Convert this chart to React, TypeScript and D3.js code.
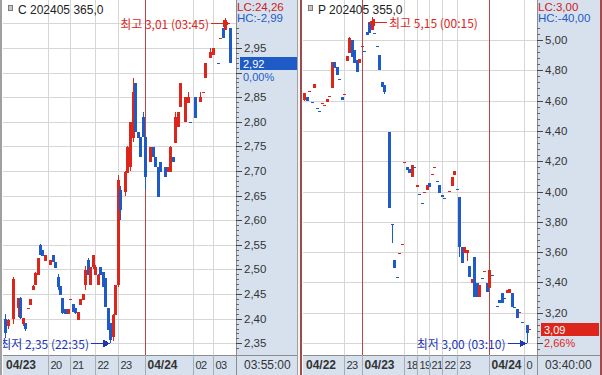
import React from "react";
import * as d3 from "d3";

type Candle = [number, number, number, number, number]; // slot, open, high, low, close

// ---------- C 202405 365,0 ----------
const cTitle = "C 202405 365,0";
const cCandles: Candle[] = [
  [0, 2.40, 2.41, 2.36, 2.37], [1, 2.385, 2.40, 2.38, 2.397], [3, 2.40, 2.485, 2.39, 2.48],
  [5, 2.422, 2.442, 2.403, 2.442], [6, 2.442, 2.445, 2.40, 2.401], [7, 2.389, 2.40, 2.385, 2.401],
  [8, 2.391, 2.391, 2.375, 2.379], [9, 2.422, 2.422, 2.422, 2.422], [10, 2.428, 2.44, 2.428, 2.44],
  [11, 2.458, 2.468, 2.458, 2.466], [12, 2.469, 2.495, 2.469, 2.493], [13, 2.489, 2.523, 2.489, 2.523],
  [14, 2.55, 2.552, 2.53, 2.53], [15, 2.54, 2.54, 2.527, 2.527], [16, 2.517, 2.53, 2.517, 2.53],
  [18, 2.509, 2.519, 2.509, 2.519], [19, 2.53, 2.53, 2.515, 2.515], [20, 2.515, 2.515, 2.503, 2.503],
  [21, 2.485, 2.49, 2.458, 2.464], [22, 2.466, 2.466, 2.448, 2.448], [23, 2.442, 2.442, 2.41, 2.412],
  [24, 2.42, 2.42, 2.41, 2.41], [25, 2.41, 2.42, 2.41, 2.42], [26, 2.44, 2.44, 2.44, 2.44],
  [27, 2.43, 2.43, 2.414, 2.414], [28, 2.422, 2.422, 2.41, 2.412], [29, 2.397, 2.414, 2.397, 2.414],
  [30, 2.428, 2.44, 2.428, 2.44], [31, 2.438, 2.45, 2.438, 2.45], [32, 2.469, 2.507, 2.458, 2.499],
  [33, 2.519, 2.523, 2.489, 2.489], [34, 2.469, 2.505, 2.469, 2.505], [35, 2.505, 2.53, 2.50, 2.53],
  [36, 2.489, 2.51, 2.489, 2.505], [37, 2.469, 2.49, 2.469, 2.489], [38, 2.505, 2.505, 2.489, 2.489],
  [39, 2.495, 2.495, 2.464, 2.464], [40, 2.483, 2.483, 2.424, 2.424], [41, 2.422, 2.422, 2.377, 2.377],
  [42, 2.391, 2.391, 2.35, 2.357], [43, 2.363, 2.41, 2.355, 2.408], [44, 2.408, 2.469, 2.408, 2.469],
  [45, 2.469, 2.692, 2.465, 2.682], [46, 2.662, 2.67, 2.60, 2.62], [48, 2.658, 2.70, 2.65, 2.698],
  [49, 2.696, 2.75, 2.696, 2.749], [50, 2.708, 2.80, 2.70, 2.80], [51, 2.767, 2.889, 2.76, 2.861],
  [52, 2.879, 2.879, 2.78, 2.78], [53, 2.78, 2.78, 2.767, 2.767], [54, 2.769, 2.769, 2.729, 2.729],
  [55, 2.81, 2.82, 2.769, 2.769], [56, 2.769, 2.77, 2.662, 2.688], [58, 2.719, 2.749, 2.719, 2.749],
  [59, 2.749, 2.749, 2.729, 2.729], [60, 2.729, 2.729, 2.708, 2.708], [61, 2.708, 2.708, 2.647, 2.647],
  [62, 2.719, 2.719, 2.698, 2.698], [64, 2.708, 2.708, 2.688, 2.688], [65, 2.698, 2.708, 2.698, 2.708],
  [66, 2.698, 2.75, 2.698, 2.749], [67, 2.729, 2.729, 2.719, 2.719], [68, 2.757, 2.82, 2.757, 2.81],
  [69, 2.79, 2.82, 2.79, 2.82], [70, 2.83, 2.879, 2.83, 2.879], [72, 2.80, 2.851, 2.80, 2.851],
  [73, 2.839, 2.861, 2.839, 2.851], [74, 2.80, 2.80, 2.80, 2.80], [76, 2.851, 2.851, 2.808, 2.808],
  [78, 2.841, 2.861, 2.841, 2.851], [79, 2.861, 2.861, 2.861, 2.861], [80, 2.889, 2.92, 2.889, 2.92],
  [82, 2.93, 2.95, 2.93, 2.942], [83, 2.936, 2.95, 2.936, 2.95], [85, 2.92, 2.92, 2.92, 2.92],
  [86, 2.971, 2.971, 2.971, 2.971], [87, 2.99, 2.99, 2.97, 2.97], [88, 2.987, 3.01, 2.987, 3.007],
  [90, 2.99, 2.99, 2.92, 2.92],
];
const cTicks: [number, string][] = [[0, "04/23"], [17, "20"], [26, "21"], [36, "22"], [45, "23"], [56, "04/24"], [75, "02"], [83, "03"]];
const cYTicks = [2.35, 2.40, 2.45, 2.50, 2.55, 2.60, 2.65, 2.70, 2.75, 2.80, 2.85, 2.90, 2.95, 3.00];
const cLC = "LC:24,26";
const cHC = "HC:-2,99";
const cLast = 2.92;
const cPct = "0,00%";
const cTime = "03:55:00";
const cHigh = { idx: 88, value: 3.01, time: "03:45" };
const cLow = { idx: 42, value: 2.35, time: "22:35" };

// ---------- P 202405 355,0 ----------
const pTitle = "P 202405 355,0";
const pCandles: Candle[] = [
  [0, 4.604, 4.65, 4.60, 4.65], [1, 4.624, 4.624, 4.597, 4.597], [2, 4.663, 4.663, 4.663, 4.663],
  [3, 4.591, 4.591, 4.591, 4.591], [4, 4.683, 4.71, 4.683, 4.71], [5, 4.551, 4.551, 4.551, 4.551],
  [6, 4.531, 4.531, 4.531, 4.531], [7, 4.584, 4.584, 4.584, 4.584], [8, 4.568, 4.572, 4.568, 4.572],
  [9, 4.591, 4.611, 4.591, 4.611], [10, 4.63, 4.63, 4.63, 4.63], [11, 4.683, 4.855, 4.683, 4.855],
  [12, 4.855, 4.855, 4.815, 4.815], [13, 4.822, 4.822, 4.769, 4.769], [14, 4.743, 4.743, 4.743, 4.743],
  [15, 4.624, 4.624, 4.604, 4.604], [16, 4.644, 4.644, 4.644, 4.644], [17, 4.861, 4.894, 4.861, 4.894],
  [18, 4.914, 5.02, 4.914, 5.013], [19, 5.00, 5.00, 4.888, 4.888], [20, 4.934, 4.934, 4.848, 4.848],
  [21, 4.868, 4.868, 4.789, 4.789], [22, 4.848, 4.875, 4.848, 4.875], [23, 4.96, 4.96, 4.96, 4.96],
  [24, 4.927, 4.927, 4.927, 4.927], [25, 5.053, 5.053, 5.033, 5.033], [26, 5.112, 5.112, 5.046, 5.046],
  [27, 5.066, 5.15, 5.066, 5.119], [28, 5.046, 5.046, 5.046, 5.046], [29, 4.96, 4.96, 4.96, 4.96],
  [30, 4.901, 4.901, 4.802, 4.802], [31, 4.723, 4.723, 4.69, 4.69], [32, 4.703, 4.703, 4.644, 4.657],
  [34, 4.393, 4.393, 3.891, 3.891], [35, 3.785, 3.785, 3.66, 3.78], [36, 3.548, 3.548, 3.495, 3.495],
  [37, 3.436, 3.436, 3.436, 3.436], [38, 3.594, 3.594, 3.594, 3.594], [39, 3.653, 3.653, 3.653, 3.653],
  [40, 4.195, 4.195, 4.195, 4.195], [41, 4.162, 4.162, 4.142, 4.142], [42, 4.149, 4.149, 4.122, 4.122],
  [43, 4.096, 4.175, 4.096, 4.175], [44, 4.162, 4.162, 4.162, 4.162], [45, 4.03, 4.043, 4.03, 4.043],
  [46, 3.983, 3.983, 3.983, 3.983], [47, 3.924, 3.924, 3.924, 3.924], [48, 3.99, 3.997, 3.99, 3.997],
  [49, 4.01, 4.043, 4.01, 4.043], [50, 4.056, 4.056, 4.03, 4.03], [51, 4.116, 4.116, 4.116, 4.116],
  [52, 4.162, 4.162, 4.162, 4.162], [53, 4.069, 4.069, 4.069, 4.069], [54, 4.043, 4.043, 3.99, 3.99],
  [55, 3.977, 3.977, 3.964, 3.964], [56, 3.957, 3.957, 3.957, 3.957], [58, 4.003, 4.003, 4.003, 4.003],
  [59, 4.036, 4.096, 4.036, 4.096], [60, 4.109, 4.135, 4.109, 4.135], [61, 4.017, 4.017, 4.017, 4.017],
  [62, 3.964, 3.964, 3.568, 3.634], [63, 3.634, 3.634, 3.528, 3.528], [64, 3.594, 3.634, 3.594, 3.634],
  [65, 3.594, 3.614, 3.54, 3.614], [66, 3.508, 3.508, 3.436, 3.436], [67, 3.396, 3.422, 3.396, 3.422],
  [68, 3.568, 3.568, 3.304, 3.304], [69, 3.396, 3.396, 3.304, 3.304], [70, 3.304, 3.383, 3.304, 3.383],
  [71, 3.43, 3.43, 3.42, 3.42], [72, 3.475, 3.475, 3.475, 3.475], [73, 3.396, 3.396, 3.337, 3.337],
  [74, 3.363, 3.482, 3.363, 3.482], [75, 3.449, 3.449, 3.449, 3.449], [77, 3.244, 3.244, 3.244, 3.244],
  [78, 3.284, 3.284, 3.264, 3.264], [79, 3.33, 3.33, 3.264, 3.264], [80, 3.30, 3.30, 3.297, 3.297],
  [81, 3.33, 3.35, 3.33, 3.35], [82, 3.33, 3.356, 3.33, 3.356], [83, 3.33, 3.33, 3.238, 3.238],
  [84, 3.24, 3.24, 3.236, 3.236], [85, 3.224, 3.224, 3.165, 3.165], [86, 3.205, 3.205, 3.205, 3.205],
  [87, 3.139, 3.139, 3.139, 3.139], [89, 3.119, 3.119, 3.00, 3.066], [90, 3.09, 3.09, 3.09, 3.09],
];
const pTicks: [number, string][] = [[0, "04/22"], [16, "23"], [23, "04/23"], [40, "18"], [45, "19"], [50, "21"], [55, "22"], [61, "23"], [74, "04/24"], [88, "0"]];
const pYTicks = [3.00, 3.20, 3.40, 3.60, 3.80, 4.00, 4.20, 4.40, 4.60, 4.80, 5.00];
const pLC = "LC:3,00";
const pHC = "HC:-40,00";
const pLast = 3.09;
const pPct = "2,66%";
const pTime = "03:40:00";
const pHigh = { idx: 27, value: 5.15, time: "00:15" };
const pLow = { idx: 89, value: 3.00, time: "03:10" };

const RED = "#dc261c";
const BLUE = "#1f5bc6";
const TXT_BLUE = "#1d36b8";
const AXIS_BG = "#d7e1ee";
const GRID = "#d6d6d6";
const NUM_FONT = "'Liberation Sans', Arial, sans-serif";
const KR_FONT = "'Noto Sans CJK KR', 'Noto Sans', sans-serif";

const fmt = (v: number) => d3.format(".2f")(v).replace(".", ",");

interface Extreme { idx: number; value: number; time: string }
interface PanelProps {
  id: string; ox: number; plotL: number; axisX: number; axisR: number; xStart: number;
  title: string; candles: Candle[]; ticks: [number, string][]; yTicks: number[];
  yDomain: [number, number]; yRange: [number, number]; minorStep: number;
  lc: string; hc: string; last: number; pct: string; time: string;
  high: Extreme; low: Extreme; highTextRight: boolean; lastColor: string;
}

function Arrow({ tipX, y, dir, color, text }: { tipX: number; y: number; dir: number; color: string; text: string }) {
  const hl = 7, hh = 4, ll = 12;
  const yy = Math.round(y) + 0.5;
  const baseX = tipX - dir * hl;
  const endX = baseX - dir * ll;
  return (
    <g>
      <line x1={baseX} x2={endX} y1={yy} y2={yy} stroke={color} strokeWidth={1} />
      <path d={`M${tipX},${yy} L${baseX},${yy - hh} L${baseX},${yy + hh} Z`} fill={color} />
      <text x={endX - dir * 2} y={yy} textAnchor={dir === 1 ? "end" : "start"} dominantBaseline="central"
        fontFamily={KR_FONT} fontSize={12} fill={color}>{text}</text>
    </g>
  );
}

function Panel(p: PanelProps) {
  const plotTop = 0, plotBottom = 355, H = 375;
  const x = d3.scaleLinear().domain([0, 90]).range([p.xStart, p.xStart + 225]);
  const y = d3.scaleLinear().domain(p.yDomain).range(p.yRange);
  const [d0, d1] = p.yDomain;
  const span = d1 - d0;
  const minors = d3.range(Math.ceil((d0 - span * 0.05) / p.minorStep), Math.floor((d1 + span * 0.12) / p.minorStep) + 1)
    .map((k) => k * p.minorStep)
    .filter((v) => y(v) > 26 && y(v) < plotBottom - 2);
  const clipId = `clip-${p.id}`;
  const lastY = Math.round(y(p.last));
  const labelVisible = (v: number) => {
    const yy = y(v);
    return yy > 30 && !(yy > lastY - 13 && yy < lastY + 21);
  };
  return (
    <g>
      <defs>
        <clipPath id={clipId}>
          <rect x={p.plotL} y={plotTop} width={p.axisX - p.plotL} height={plotBottom - plotTop} />
        </clipPath>
      </defs>
      <rect x={p.plotL} y={0} width={p.axisX - p.plotL} height={plotBottom} fill="#ffffff" />
      {p.yTicks.map((v) => (
        <line key={`hg${v}`} x1={p.plotL} x2={p.axisX} y1={Math.round(y(v)) + 0.5} y2={Math.round(y(v)) + 0.5} stroke={GRID} />
      ))}
      {p.ticks.filter(([i]) => i > 0).map(([i, lab]) => (
        <line key={`vg${i}`} x1={Math.round(x(i)) + 0.5} x2={Math.round(x(i)) + 0.5} y1={0} y2={plotBottom}
          stroke={lab.includes("/") ? "#b84848" : GRID} />
      ))}
      <g clipPath={`url(#${clipId})`}>
        {p.candles.map(([i, o, h, l, c], k) => {
          const prev = k > 0 ? p.candles[k - 1][4] : o;
          const up = c > o || (c === o && c >= prev);
          const color = up ? RED : BLUE;
          const cx = Math.round(x(i));
          const top = Math.round(Math.min(y(o), y(c)));
          const bot = Math.round(Math.max(y(o), y(c)));
          const wt = Math.round(y(h));
          const wb = Math.round(y(l));
          return (
            <g key={k}>
              <rect x={cx} y={wt} width={1} height={Math.max(1, wb - wt)} fill={color} />
              <rect x={cx - 1} y={top} width={3} height={Math.max(1, bot - top)} fill={color} />
            </g>
          );
        })}
        <Arrow tipX={p.highTextRight ? x(p.high.idx) - 3.5 : x(p.high.idx) + 5} y={y(p.high.value) + 5}
          dir={p.highTextRight ? -1 : 1} color={RED} text={`최고 ${fmt(p.high.value)} (${p.high.time})`} />
        <Arrow tipX={x(p.low.idx)} y={y(p.low.value)} dir={1} color={TXT_BLUE}
          text={`최저 ${fmt(p.low.value)} (${p.low.time})`} />
      </g>
      <rect x={p.ox + 8.5} y={5.5} width={4} height={5} fill="#c8c8c8" stroke="#7a7a7a" />
      <text x={p.ox + 18} y={14} fontFamily={NUM_FONT} fontSize={12} fill="#222">{p.title}</text>
      {/* y axis strip */}
      <rect x={p.axisX} y={0} width={p.axisR - p.axisX} height={H} fill={AXIS_BG} />
      <line x1={p.axisX + 0.5} x2={p.axisX + 0.5} y1={0} y2={H} stroke="#8c8c8c" />
      {minors.map((v, k) => (
        <line key={`mn${k}`} x1={p.axisX} x2={p.axisX + 3} y1={Math.round(y(v)) + 0.5} y2={Math.round(y(v)) + 0.5} stroke="#666" />
      ))}
      {p.yTicks.filter((v) => y(v) > 26).map((v) => (
        <line key={`mj${v}`} x1={p.axisX} x2={p.axisX + 6} y1={Math.round(y(v)) + 0.5} y2={Math.round(y(v)) + 0.5} stroke="#444" />
      ))}
      {p.yTicks.filter(labelVisible).map((v) => (
        <text key={`yl${v}`} x={p.axisX + 8} y={y(v)} dominantBaseline="central" fontFamily={NUM_FONT} fontSize={11.5} fill="#333">{fmt(v)}</text>
      ))}
      <text x={p.axisX + 1} y={11} fontFamily={NUM_FONT} fontSize={11.5} fill="#cc2020">{p.lc}</text>
      <text x={p.axisX + 1} y={22} fontFamily={NUM_FONT} fontSize={11.5} fill={BLUE}>{p.hc}</text>
      {/* last price box */}
      <rect x={p.axisX + 4} y={lastY - 6} width={p.axisR - p.axisX - 5} height={13} fill={p.lastColor} />
      <text x={p.axisX + 7} y={lastY + 0.5} dominantBaseline="central" fontFamily={NUM_FONT} fontSize={11} fill="#fff">{fmt(p.last)}</text>
      <text x={p.axisX + 7} y={lastY + 13.5} dominantBaseline="central" fontFamily={NUM_FONT} fontSize={11} fill={p.lastColor}>{p.pct}</text>
      {/* x axis strip */}
      <rect x={p.plotL} y={plotBottom} width={p.axisX - p.plotL} height={H - plotBottom} fill={AXIS_BG} />
      <line x1={p.plotL} x2={p.axisR} y1={plotBottom + 0.5} y2={plotBottom + 0.5} stroke="#8c8c8c" />
      {p.ticks.map(([i, lab]) => {
        const gx = i === 0 ? p.plotL : Math.round(x(i)) + 0.5;
        const bold = lab.includes("/");
        return (
          <g key={`xl${i}`}>
            {i > 0 && <line x1={gx} x2={gx} y1={plotBottom} y2={H} stroke="#a2abb8" />}
            <text x={i === 0 ? p.plotL + 3 : gx + 2} y={369} fontFamily={NUM_FONT} fontSize={bold ? 12 : 11}
              letterSpacing={bold ? 0 : -0.5} fontWeight={bold ? "bold" : "normal"} fill="#333">{lab}</text>
          </g>
        );
      })}
      <text x={p.axisX + 8} y={369} fontFamily={NUM_FONT} fontSize={12} fill="#333">{p.time}</text>
    </g>
  );
}

export default function App() {
  return (
    <svg width={602} height={375} style={{ position: "fixed", left: 0, top: 0, display: "block", background: "#fff" }}
      shapeRendering="crispEdges">
      <Panel id="c" ox={0} plotL={3} axisX={236} axisR={298} xStart={5}
        title={cTitle} candles={cCandles} ticks={cTicks} yTicks={cYTicks}
        yDomain={[2.35, 2.95]} yRange={[343.3, 48]} minorStep={0.01}
        lc={cLC} hc={cHC} last={cLast} pct={cPct} time={cTime}
        high={cHigh} low={cLow} highTextRight={false} lastColor={BLUE} />
      <Panel id="p" ox={300} plotL={303} axisX={537} axisR={600} xStart={304}
        title={pTitle} candles={pCandles} ticks={pTicks} yTicks={pYTicks}
        yDomain={[3.0, 5.0]} yRange={[343, 40]} minorStep={0.04}
        lc={pLC} hc={pHC} last={pLast} pct={pPct} time={pTime}
        high={pHigh} low={pLow} highTextRight={true} lastColor={RED} />
      <line x1={1} x2={1} y1={0} y2={375} stroke="#a0a0a0" strokeWidth={2} />
      <line x1={297.5} x2={297.5} y1={0} y2={375} stroke="#a0a0a0" />
      <rect x={298} y={0} width={2} height={375} fill="#f4f4f4" />
      <line x1={301} x2={301} y1={0} y2={375} stroke="#a24a4a" strokeWidth={2} />
      <line x1={601} x2={601} y1={0} y2={375} stroke="#a24a4a" strokeWidth={2} />
    </svg>
  );
}
